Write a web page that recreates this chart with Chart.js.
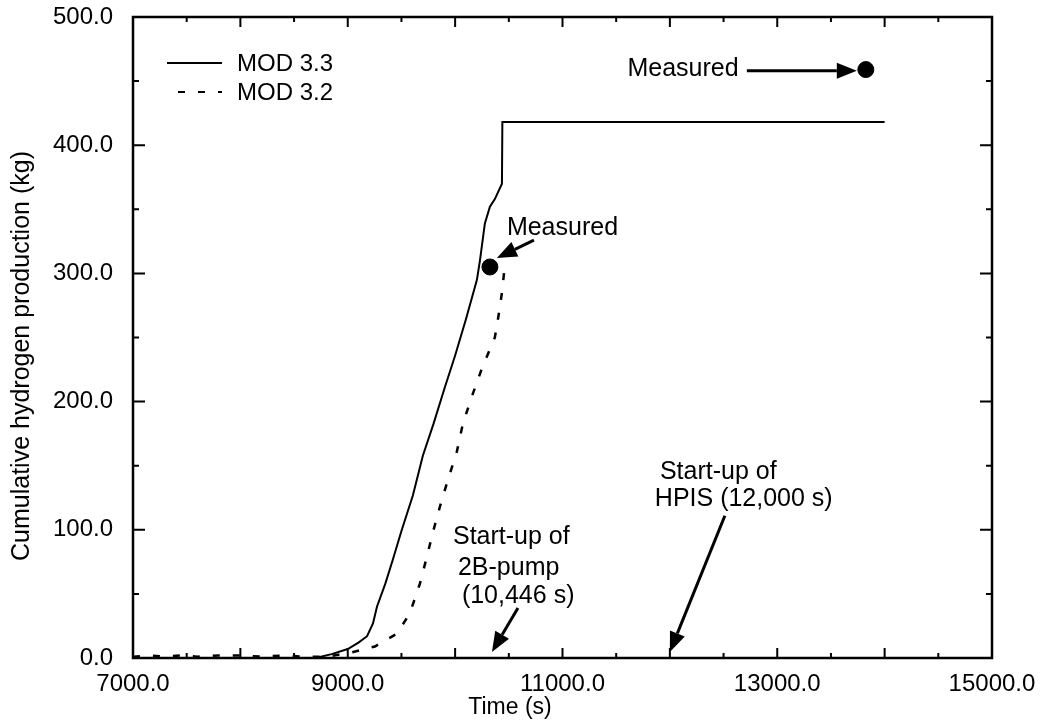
<!DOCTYPE html>
<html>
<head>
<meta charset="utf-8">
<script src="https://cdn.jsdelivr.net/npm/chart.js@4/dist/chart.umd.min.js"></script>
<style>
  html, body { margin: 0; padding: 0; background: #fff; }
  #wrap { width: 1044px; height: 728px; }
</style>
</head>
<body>
<div id="wrap"><canvas id="chart" width="1044" height="728"></canvas></div>
<script>
// --- DATA ---
const mod33Time = [8700, 8850, 9000, 9100, 9180, 9235, 9272, 9350, 9421, 9500, 9607, 9700, 9800, 9900, 10000, 10100, 10203, 10231, 10277, 10324, 10370, 10436, 10440, 14000];
const mod33Mass = [0, 3, 7, 12, 17, 27, 40, 58, 77, 99, 127, 158, 183, 210, 236, 264, 295, 310, 339, 352, 358, 370, 418, 418];

const mod32Time = [7000, 7150, 7300, 7450, 7600, 7800, 8000, 8200, 8400, 8600, 8800, 9020, 9253, 9458, 9579, 9672, 9737, 9793, 9858, 9933, 10016, 10073, 10156, 10250, 10370, 10410, 10436, 10464];
const mod32Mass = [1, 2, 1, 2, 1, 2, 2, 1, 2, 1, 1, 4, 9, 19, 35, 58, 79, 98, 118, 139, 161, 183, 204, 226, 250, 270, 285, 307];

const measuredTime = [10324, 13825];
const measuredMass = [305, 459];

const xLabelled = [7000, 9000, 11000, 13000, 15000];
const yLabelled = [0, 100, 200, 300, 400, 500];

const FONT = '"Liberation Sans", Arial, Helvetica, sans-serif';

const zip = (xs, ys) => xs.map((x, i) => ({ x: x, y: ys[i] }));

// annotation arrows/text, in data units (time, kg)
const arrows = [
    { from: [12717, 458], to: [13741, 458] },
    { from: [10734, 326], to: [10389, 312] },
    { from: [10585, 39], to: [10343, 4.7] },
    { from: [12512, 111], to: [12000, 4.7] }
];
const notes = [
    { text: "Measured", at: [12640, 459], align: 'right' },
    { text: "Measured", at: [10482, 335] },
    { text: "Start-up of", at: [9980, 94] },
    { text: "2B-pump", at: [10026, 70] },
    { text: "(10,446 s)", at: [10063, 48] },
    { text: "Start-up of", at: [11907, 145] },
    { text: "HPIS (12,000 s)", at: [11860, 124] }
];

function drawArrow(ctx, x1, y1, x2, y2) {
    const head = 20, half = 8;
    const ang = Math.atan2(y2 - y1, x2 - x1);
    const bx = x2 - head * Math.cos(ang), by = y2 - head * Math.sin(ang);
    ctx.beginPath();
    ctx.moveTo(x1, y1);
    ctx.lineTo(bx, by);
    ctx.stroke();
    ctx.beginPath();
    ctx.moveTo(x2, y2);
    ctx.lineTo(bx + half * Math.sin(ang), by - half * Math.cos(ang));
    ctx.lineTo(bx - half * Math.sin(ang), by + half * Math.cos(ang));
    ctx.closePath();
    ctx.fill();
}

// frame, inward ticks, legend, titles and notes
const framePlugin = {
    id: 'frame',
    afterDraw(chart) {
        const { ctx, chartArea: a, scales: { x, y } } = chart;
        ctx.save();
        ctx.strokeStyle = '#000';
        ctx.fillStyle = '#000';
        ctx.lineWidth = 2.5;
        ctx.strokeRect(a.left, a.top, a.right - a.left, a.bottom - a.top);

        ctx.lineWidth = 2;
        ctx.beginPath();
        x.ticks.forEach(t => {
            const px = x.getPixelForValue(t.value);
            const len = t.value % 1000 === 0 ? 10 : 5;
            ctx.moveTo(px, a.bottom); ctx.lineTo(px, a.bottom - len);
            ctx.moveTo(px, a.top); ctx.lineTo(px, a.top + len);
        });
        y.ticks.forEach(t => {
            const py = y.getPixelForValue(t.value);
            const len = t.value % 100 === 0 ? 12 : 6;
            ctx.moveTo(a.left, py); ctx.lineTo(a.left + len, py);
            ctx.moveTo(a.right, py); ctx.lineTo(a.right - len, py);
        });
        ctx.stroke();

        // legend
        ctx.font = '24px ' + FONT;
        ctx.textBaseline = 'middle';
        ctx.textAlign = 'left';
        const legendRows = [{ ds: chart.data.datasets[0], x0: 167, y: 63 }, { ds: chart.data.datasets[1], x0: 178, y: 92 }];
        legendRows.forEach(r => {
            ctx.lineWidth = 2;
            ctx.setLineDash(r.ds.borderDash || []);
            ctx.beginPath();
            ctx.moveTo(r.x0, r.y);
            ctx.lineTo(222, r.y);
            ctx.stroke();
            ctx.setLineDash([]);
            ctx.fillText(r.ds.label, 237, r.y + 1);
        });

        // annotation arrows
        ctx.lineWidth = 3;
        arrows.forEach(ar => {
            drawArrow(ctx,
                x.getPixelForValue(ar.from[0]), y.getPixelForValue(ar.from[1]),
                x.getPixelForValue(ar.to[0]), y.getPixelForValue(ar.to[1]));
        });
        ctx.font = '25px ' + FONT;
        notes.forEach(n => {
            ctx.textAlign = n.align || 'left';
            ctx.fillText(n.text, x.getPixelForValue(n.at[0]), y.getPixelForValue(n.at[1]));
        });

        // axis titles
        ctx.font = '23px ' + FONT;
        ctx.textAlign = 'center';
        ctx.fillText('Time (s)', 510, 708);
        ctx.font = '25px ' + FONT;
        ctx.translate(22, 356);
        ctx.rotate(-Math.PI / 2);
        ctx.fillText('Cumulative hydrogen production (kg)', 0, 0);
        ctx.restore();
    }
};

new Chart(document.getElementById('chart'), {
    type: 'line',
    data: {
        datasets: [
            {
                label: 'MOD 3.3',
                data: zip(mod33Time, mod33Mass),
                borderColor: '#000',
                borderWidth: 2,
                pointRadius: 0,
                tension: 0
            },
            {
                label: 'MOD 3.2',
                data: zip(mod32Time, mod32Mass),
                borderColor: '#000',
                borderWidth: 2.5,
                borderDash: [7, 13],
                pointRadius: 0,
                tension: 0
            },
            {
                label: 'Measured',
                data: zip(measuredTime, measuredMass),
                showLine: false,
                pointRadius: 8,
                pointBackgroundColor: '#000',
                pointBorderColor: '#000'
            }
        ]
    },
    options: {
        responsive: false,
        animation: false,
        devicePixelRatio: 1,
        layout: { autoPadding: false, padding: { top: 17, right: 52, left: 0, bottom: 0 } },
        plugins: {
            legend: { display: false },
            tooltip: { enabled: false }
        },
        scales: {
            x: {
                type: 'linear',
                min: 7000,
                max: 15000,
                grid: { display: false, drawTicks: false },
                border: { display: false },
                ticks: {
                    stepSize: 500,
                    autoSkip: false,
                    maxRotation: 0,
                    padding: 12,
                    color: '#000',
                    font: { family: FONT, size: 24 },
                    callback: v => xLabelled.includes(v) ? v.toFixed(1) : ''
                },
                afterFit: s => { s.height = 70; s.paddingLeft = 0; s.paddingRight = 0; }
            },
            y: {
                min: 0,
                max: 500,
                grid: { display: false, drawTicks: false },
                border: { display: false },
                ticks: {
                    stepSize: 50,
                    padding: 20,
                    color: '#000',
                    font: { family: FONT, size: 24 },
                    callback: v => yLabelled.includes(v) ? v.toFixed(1) : ''
                },
                afterFit: s => { s.width = 133; s.paddingTop = 0; s.paddingBottom = 0; }
            }
        }
    },
    plugins: [framePlugin]
});
</script>
</body>
</html>
